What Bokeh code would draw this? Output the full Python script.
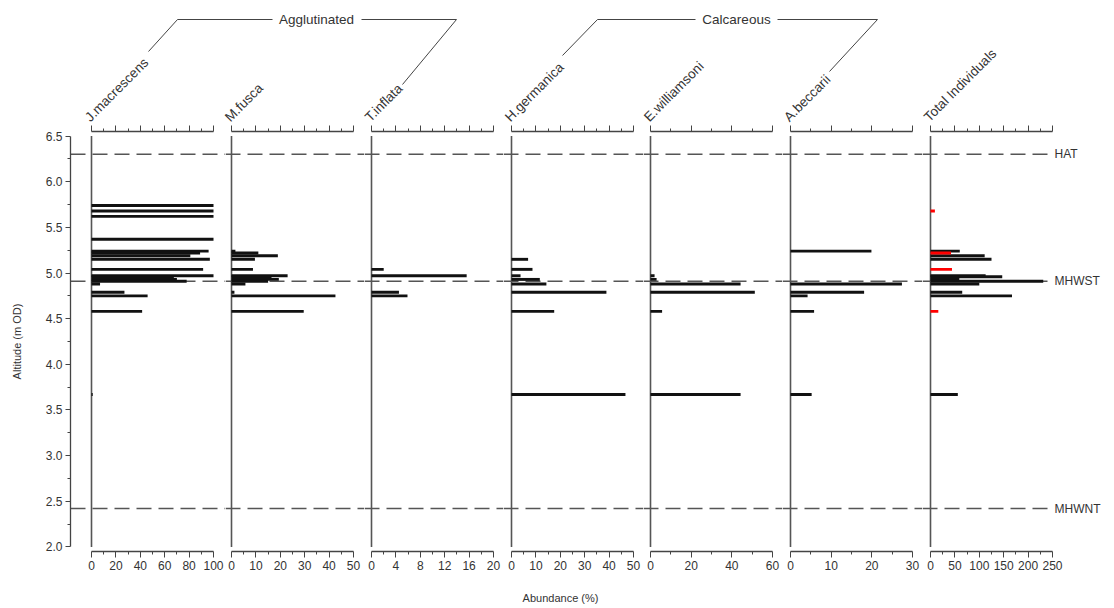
import math
from bokeh.plotting import figure
from bokeh.layouts import row, column
from bokeh.models import Range1d, LinearAxis, FixedTicker, PrintfTickFormatter
from bokeh.embed import file_html
from bokeh.resources import INLINE
from bokeh.core.properties import value

# ---------------- data ----------------
altitudes = [5.74, 5.68, 5.62, 5.37, 5.24, 5.22, 5.19, 5.15, 5.04, 4.97, 4.96,
             4.93, 4.91, 4.88, 4.79, 4.75, 4.58, 3.67]

j_macrescens  = [100, 100, 100, 100, 96, 89, 81, 97, 91.5, 100, 67.5, 70, 78, 7, 27, 46, 41.5, 1]
m_fusca       = [None, None, None, None, 1.6, 11, 19, 9.6, 8.8, 23, 16.4, 19.4, 15, 5.7, 1.2, 42.6, 29.6, None]
t_inflata     = [None, None, None, None, None, None, None, None, 2.0, 15.6, None, None, None, None, 4.5, 5.9, None, None]
h_germanica   = [None, None, None, None, None, None, None, 6.8, 8.6, 3.7, None, 11.6, None, 14.3, 38.9, None, 17.5, 46.7]
e_williamsoni = [None, None, None, None, None, None, None, None, None, 2.0, None, 3.0, None, 44.3, 51.3, None, 5.7, 44.3]
a_beccarii    = [None, None, None, None, 19.9, None, None, None, None, None, None, None, None, 27.4, 18.1, 4.2, 5.8, 5.2]
total_individuals = [None, None, None, None, 60, None, 111, 125, None, 113, 147, 59, 231, 100, 65, 167, None, 56]
total_low_count   = [None, 9, None, None, None, 42, None, None, 44, None, None, None, None, None, None, None, 16, None]

species_labels = ["J.macrescens", "M.fusca", "T.inflata", "H.germanica",
                  "E.williamsoni", "A.beccarii", "Total Individuals"]
panel_max = [100, 50, 20, 50, 60, 30, 250]
panel_major_ticks = [
    [0, 20, 40, 60, 80, 100],
    [0, 10, 20, 30, 40, 50],
    [0, 4, 8, 12, 16, 20],
    [0, 10, 20, 30, 40, 50],
    [0, 20, 40, 60],
    [0, 10, 20, 30],
    [0, 50, 100, 150, 200, 250],
]
panel_minor_ticks = [
    [10, 30, 50, 70, 90],
    [5, 15, 25, 35, 45],
    [2, 6, 10, 14, 18],
    [5, 15, 25, 35, 45],
    [10, 30, 50],
    [5, 15, 25],
    [25, 75, 125, 175, 225],
]
group_labels = ["Agglutinated", "Calcareous"]
x_axis_title = "Abundance (%)"
y_axis_title = "Altitude (m OD)"

tide_names = ["HAT", "MHWST", "MHWNT"]
tide_levels = [6.30, 4.91, 2.42]

y_major_ticks = [2.0, 2.5, 3.0, 3.5, 4.0, 4.5, 5.0, 5.5, 6.0, 6.5]
y_minor_ticks = [2.25, 2.75, 3.25, 3.75, 4.25, 4.75, 5.25, 5.75, 6.25]

panel_series = [j_macrescens, m_fusca, t_inflata, h_germanica, e_williamsoni, a_beccarii, total_individuals]

# ---------------- layout ----------------
PAGE_W, PAGE_H = 1114, 608
HEADER_H = 125
FOOTER_H = 18
ROW_H = PAGE_H - HEADER_H - FOOTER_H
BORDER_TOP = 6
FRAME_H = 420
BORDER_BOTTOM = ROW_H - BORDER_TOP - FRAME_H
LEFT_BORDER = 70
PANEL_PX = 122
origins = [91, 231, 371, 511, 650, 790, 930]
bounds_px = [70, 225, 364, 503, 643, 782, 922, 1114]

FONT = "Liberation Sans"
TXT = "#333333"
AX = "#444444"

def pts(vals):
    ys, xs = [], []
    for a, v in zip(altitudes, vals):
        if v is not None:
            ys.append(a)
            xs.append(v)
    return ys, xs

def style_axis(ax, labels=True):
    ax.axis_line_color = AX
    ax.axis_line_width = 1.3
    ax.major_tick_line_color = AX
    ax.minor_tick_line_color = AX
    ax.major_tick_in = 0
    ax.minor_tick_in = 0
    ax.major_tick_out = 6
    ax.minor_tick_out = 3
    ax.major_label_text_font = FONT
    if labels:
        ax.major_label_text_color = TXT
        ax.major_label_text_font_size = "12px"
        ax.major_label_standoff = 3
    else:
        ax.major_label_text_color = None
        ax.major_label_text_font_size = "1px"
        ax.major_label_standoff = 0

def blank_fig(w, hgt):
    f = figure(width=w, height=hgt, output_backend="svg", toolbar_location=None,
               x_range=Range1d(0, w), y_range=Range1d(0, hgt),
               x_axis_location=None, y_axis_location=None,
               min_border=0, outline_line_color=None,
               background_fill_color="white", border_fill_color="white")
    f.xgrid.visible = False
    f.ygrid.visible = False
    return f

figs = []
for i in range(7):
    m = panel_max[i]
    o = origins[i]
    lpx, rpx = bounds_px[i], bounds_px[i + 1]
    xs_start = (lpx - o) * m / PANEL_PX
    xs_end = (rpx - o) * m / PANEL_PX
    fw = (rpx - lpx) + (LEFT_BORDER if i == 0 else 0)
    p = figure(width=fw, height=ROW_H, output_backend="svg", toolbar_location=None,
               x_range=Range1d(xs_start, xs_end), y_range=Range1d(1.95, 6.55),
               x_axis_location=None, y_axis_location=None,
               min_border_left=LEFT_BORDER if i == 0 else 0, min_border_right=0,
               min_border_top=BORDER_TOP, min_border_bottom=BORDER_BOTTOM,
               outline_line_color=None, background_fill_color="white",
               border_fill_color="white")
    p.xgrid.visible = False
    p.ygrid.visible = False

    # tide level dashed lines
    line_end = xs_end if i < 6 else m - 1
    p.segment(x0=[xs_start] * len(tide_levels), x1=[line_end] * len(tide_levels),
              y0=tide_levels, y1=tide_levels, line_color="#555555", line_width=1.5,
              line_dash="15 7")

    # panel baseline
    p.segment(x0=[0], x1=[0], y0=[y_major_ticks[0]], y1=[y_major_ticks[-1]],
              line_color="#555555", line_width=1.6)

    ys, xs = pts(panel_series[i])
    p.hbar(y=ys, left=0, right=xs, height=0.032, fill_color="#111111", line_color=None)
    if i == 6:
        ys2, xs2 = pts(total_low_count)
        p.hbar(y=ys2, left=0, right=xs2, height=0.032, fill_color="#ff0000", line_color=None)
        p.text(x=[m] * len(tide_names), y=tide_levels, text=tide_names, x_offset=2,
               text_align="left", text_baseline="middle", text_font=value(FONT),
               text_font_size="12px", text_color=TXT)

    bax = LinearAxis(ticker=FixedTicker(ticks=panel_major_ticks[i], minor_ticks=panel_minor_ticks[i]),
                     bounds=(0, m))
    style_axis(bax, True)
    p.add_layout(bax, "below")
    tax = LinearAxis(ticker=FixedTicker(ticks=panel_major_ticks[i], minor_ticks=panel_minor_ticks[i]),
                     bounds=(0, m))
    style_axis(tax, False)
    p.add_layout(tax, "above")

    if i == 0:
        yax = LinearAxis(ticker=FixedTicker(ticks=y_major_ticks, minor_ticks=y_minor_ticks),
                         formatter=PrintfTickFormatter(format="%.1f"),
                         bounds=(y_major_ticks[0], y_major_ticks[-1]),
                         axis_label=y_axis_title)
        style_axis(yax, True)
        yax.major_tick_out = 5
        yax.axis_label_text_font = FONT
        yax.axis_label_text_font_size = "11px"
        yax.axis_label_text_font_style = "normal"
        yax.axis_label_text_color = TXT
        yax.axis_label_standoff = 20
        p.add_layout(yax, "left")
    figs.append(p)

# ---------------- header ----------------
h = blank_fig(PAGE_W, HEADER_H)

def hy(page_y):
    return HEADER_H - page_y

h.text(x=[o + 1 for o in origins], y=[hy(124)] * len(origins), text=species_labels,
       angle=math.pi / 4, text_align="left", text_baseline="bottom",
       text_font=value(FONT), text_font_size="13.5px", text_color=TXT)

bracket_lines = [
    [(148, 51), (177, 19), (272, 19)],
    [(361, 19), (456, 19), (402, 84)],
    [(562, 55), (597, 19), (695, 19)],
    [(777, 19), (877, 19), (829, 71)],
]
h.multi_line(xs=[[pt[0] for pt in ln] for ln in bracket_lines],
             ys=[[hy(pt[1]) for pt in ln] for ln in bracket_lines],
             line_color="#444444", line_width=1)
h.text(x=[316, 736], y=[hy(19)] * 2, text=group_labels, text_align="center",
       text_baseline="middle", text_font=value(FONT), text_font_size="13.5px",
       text_color=TXT)

# ---------------- footer ----------------
ft = blank_fig(PAGE_W, FOOTER_H)
footer_top = PAGE_H - FOOTER_H
ft.text(x=[560], y=[FOOTER_H - (597 - footer_top)], text=[x_axis_title],
        text_align="center", text_baseline="middle", text_font=value(FONT),
        text_font_size="11px", text_color=TXT)

layout = column(h, row(*figs, spacing=0), ft, spacing=0)
open("out.html", "w").write(file_html(layout, INLINE))
